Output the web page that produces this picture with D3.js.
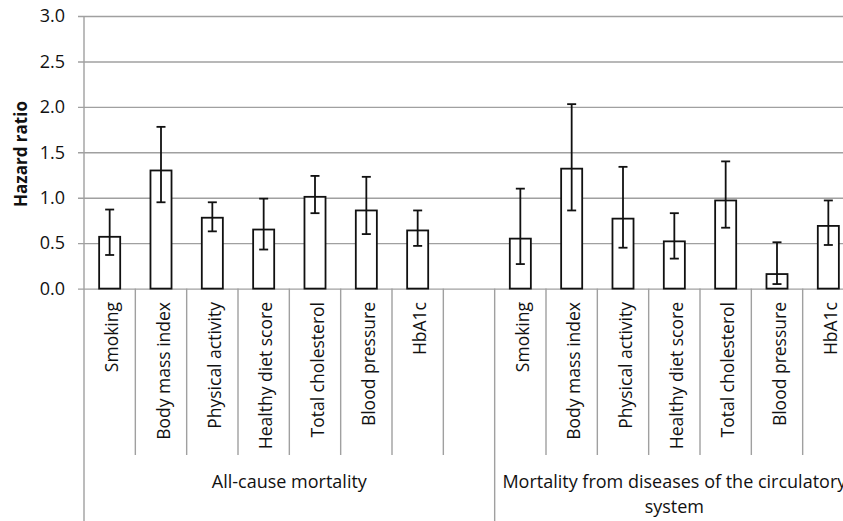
<!DOCTYPE html>
<html>
<head>
<meta charset="utf-8">
<script src="https://cdn.jsdelivr.net/npm/d3@7"></script>
<style>
  html, body { margin: 0; padding: 0; background: #fff; }
  svg { display: block; }
  text { font-family: "Open Sans", sans-serif; fill: #111; }
</style>
</head>
<body>
<svg id="chart" width="843" height="521"></svg>
<script>
// ---- data ----
const causes = ["All-cause mortality", "Mortality from diseases of the circulatory system"];
const factors = ["Smoking", "Body mass index", "Physical activity", "Healthy diet score", "Total cholesterol", "Blood pressure", "HbA1c"];
const hrAll    = [0.57, 1.30, 0.78, 0.65, 1.01, 0.86, 0.64];
const lowAll   = [0.37, 0.95, 0.63, 0.43, 0.83, 0.60, 0.47];
const highAll  = [0.87, 1.78, 0.95, 0.99, 1.24, 1.23, 0.86];
const hrCirc   = [0.55, 1.32, 0.77, 0.52, 0.97, 0.16, 0.69];
const lowCirc  = [0.27, 0.86, 0.45, 0.33, 0.67, 0.05, 0.48];
const highCirc = [1.10, 2.03, 1.34, 0.83, 1.40, 0.51, 0.97];
const yTicks = [0, 0.5, 1.0, 1.5, 2.0, 2.5, 3.0];
const yLabel = "Hazard ratio";

(function () {
// ---- build rows ----
const rows = [];
factors.forEach((f, i) => rows.push({key: "a" + i, label: f, group: 0, hr: hrAll[i], lo: lowAll[i], hi: highAll[i]}));
rows.push({key: "gap", label: "", group: 0, hr: null});
factors.forEach((f, i) => rows.push({key: "c" + i, label: f, group: 1, hr: hrCirc[i], lo: lowCirc[i], hi: highCirc[i]}));

const svg = d3.select("#chart");
const pLeft = 84, pRight = 854, pTop = 16, pBottom = 288.6;

const x = d3.scaleBand().domain(rows.map(d => d.key)).range([pLeft, pRight]).padding(0);
const y = d3.scaleLinear().domain([0, 3]).range([pBottom, pTop]);
const bw = x.bandwidth();
const barW = bw * 0.41;

const grid = "#a0a0a0";

// gridlines + y ticks
const yAxis = d3.axisLeft(y).tickValues(yTicks).tickFormat(d3.format(".1f"))
  .tickSize(-(pRight - pLeft)).tickSizeOuter(0).tickPadding(19);
const gy = svg.append("g").attr("transform", `translate(${pLeft},0)`).call(yAxis);
gy.select(".domain").remove();
gy.selectAll(".tick line").attr("stroke", grid).attr("stroke-width", 1.4).attr("x1", -6);
gy.selectAll(".tick text").style("font-size", "18px").style("font-family", "'Open Sans', sans-serif").attr("fill", "#111");

// left axis line
svg.append("line").attr("x1", pLeft).attr("x2", pLeft).attr("y1", pTop).attr("y2", 521)
  .attr("stroke", grid).attr("stroke-width", 1.4);

// category separators
svg.selectAll("line.sep").data(rows.slice(1)).join("line")
  .attr("class", "sep")
  .attr("x1", d => x(d.key)).attr("x2", d => x(d.key))
  .attr("y1", pBottom).attr("y2", d => (d.key === "c0") ? 521 : 455)
  .attr("stroke", grid).attr("stroke-width", 1.4);
svg.append("line").attr("x1", pRight).attr("x2", pRight).attr("y1", pBottom).attr("y2", 521)
  .attr("stroke", grid).attr("stroke-width", 1.4);

// bars
const data = rows.filter(d => d.hr !== null);
svg.selectAll("rect.bar").data(data).join("rect")
  .attr("class", "bar")
  .attr("x", d => x(d.key) + (bw - barW) / 2)
  .attr("width", barW)
  .attr("y", d => y(d.hr))
  .attr("height", d => y(0) - y(d.hr))
  .attr("fill", "#fff").attr("stroke", "#111").attr("stroke-width", 1.8);

// error bars
const eb = svg.selectAll("g.err").data(data).join("g").attr("class", "err")
  .attr("transform", d => `translate(${x(d.key) + bw / 2},0)`);
eb.append("line").attr("y1", d => y(d.lo)).attr("y2", d => y(d.hi)).attr("stroke", "#111").attr("stroke-width", 1.8);
eb.append("line").attr("x1", -4.5).attr("x2", 4.5).attr("y1", d => y(d.lo)).attr("y2", d => y(d.lo)).attr("stroke", "#111").attr("stroke-width", 1.8);
eb.append("line").attr("x1", -4.5).attr("x2", 4.5).attr("y1", d => y(d.hi)).attr("y2", d => y(d.hi)).attr("stroke", "#111").attr("stroke-width", 1.8);

// category labels (rotated)
svg.selectAll("text.cat").data(rows.filter(d => d.label)).join("text")
  .attr("class", "cat")
  .attr("transform", d => `translate(${x(d.key) + bw / 2 + 2.5},302) rotate(-90)`)
  .attr("text-anchor", "end")
  .attr("dy", "0.35em")
  .style("font-size", "17.5px")
  .text(d => d.label);

// group labels
const groupSpan = [[x("a0"), x("c0")], [x("c0"), pRight]];
causes.forEach((c, gi) => {
  const [g0, g1] = groupSpan[gi];
  const cx = (g0 + g1) / 2;
  const t = svg.append("text").attr("text-anchor", "middle").style("font-size", "18px");
  const words = c.split(" ");
  const maxW = g1 - g0;
  let line = [], lines = [];
  const probe = svg.append("text").style("font-size", "18px");
  words.forEach(w => {
    const test = line.concat(w).join(" ");
    probe.text(test);
    if (probe.node().getComputedTextLength() > maxW && line.length) {
      lines.push(line.join(" ")); line = [w];
    } else line.push(w);
  });
  lines.push(line.join(" "));
  probe.remove();
  lines.forEach((l, li) => t.append("tspan").attr("x", cx).attr("y", 488 + li * 25).text(l));
});

// y axis title
svg.append("text")
  .attr("transform", "translate(21,154) rotate(-90)")
  .attr("text-anchor", "middle").attr("dy", "0.35em")
  .style("font-size", "17px").style("font-weight", "bold")
  .text(yLabel);
})();
</script>
</body>
</html>
